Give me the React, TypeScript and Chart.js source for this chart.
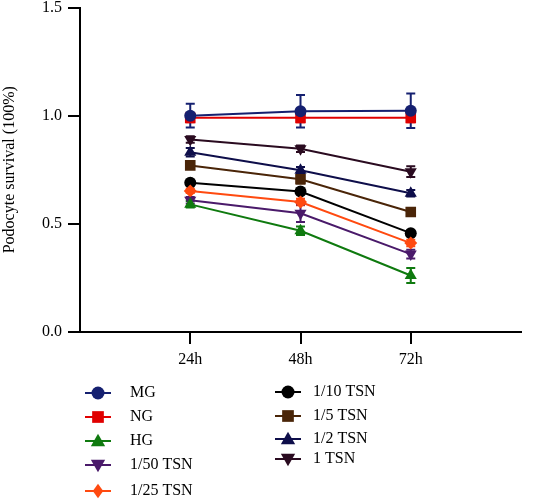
import React, { useEffect, useRef } from "react";
import { Chart, registerables } from "chart.js";

Chart.register(...registerables);

const timeLabels = ["24h", "48h", "72h"];
const seriesNames = ["MG", "NG", "HG", "1/50 TSN", "1/25 TSN", "1/10 TSN", "1/5 TSN", "1/2 TSN", "1 TSN"];
const mgValues = [1.0, 1.02, 1.023];
const ngValues = [0.99, 0.99, 0.99];
const hgValues = [0.59, 0.468, 0.261];
const tsn50Values = [0.609, 0.549, 0.36];
const tsn25Values = [0.652, 0.601, 0.411];
const tsn10Values = [0.69, 0.649, 0.457];
const tsn5Values = [0.77, 0.706, 0.555];
const tsn2Values = [0.831, 0.748, 0.641];
const tsn1Values = [0.89, 0.847, 0.741];

const mgErr = [0.055, 0.075, 0.08];
const ngErr = [0.02, 0.02, 0.02];
const hgErr = [0.015, 0.02, 0.035];
const tsn50Err = [0.015, 0.04, 0.02];
const tsn25Err = [0.01, 0.015, 0.015];
const tsn10Err = [0.01, 0.01, 0.01];
const tsn5Err = [0.015, 0.02, 0.015];
const tsn2Err = [0.02, 0.015, 0.015];
const tsn1Err = [0.015, 0.015, 0.025];

const yTicks = [0, 0.5, 1.0, 1.5];

const allValues = [mgValues, ngValues, hgValues, tsn50Values, tsn25Values, tsn10Values, tsn5Values, tsn2Values, tsn1Values];
const allErr = [mgErr, ngErr, hgErr, tsn50Err, tsn25Err, tsn10Err, tsn5Err, tsn2Err, tsn1Err];
const colors = ["#152070", "#e00000", "#0f7a0f", "#4a1a6a", "#ff4a10", "#000000", "#4a2508", "#0e0e4a", "#2a0b20"];
const styles = ["circle", "rect", "triangle", "triangle", "rectRot", "circle", "rect", "triangle", "triangle"];
const rotations = [0, 0, 0, 180, 0, 0, 0, 0, 180];
const radii = [6, 7.5, 7, 7, 6.5, 6, 7.5, 7, 7];

const FONT = "'Liberation Serif', 'Times New Roman', serif";

function drawMarker(ctx: CanvasRenderingContext2D, style: string, rot: number, x: number, y: number, r: number, color: string) {
  ctx.save();
  ctx.fillStyle = color;
  ctx.translate(x, y);
  ctx.rotate((rot * Math.PI) / 180);
  ctx.beginPath();
  if (style === "circle") {
    ctx.arc(0, 0, r, 0, Math.PI * 2);
  } else if (style === "rect") {
    const s = r * 0.9;
    ctx.rect(-s, -s, 2 * s, 2 * s);
  } else if (style === "triangle") {
    const h = r * 1.1;
    ctx.moveTo(0, -h);
    ctx.lineTo(h, h * 0.75);
    ctx.lineTo(-h, h * 0.75);
    ctx.closePath();
  } else if (style === "rectRot") {
    ctx.moveTo(0, -r * 1.1);
    ctx.lineTo(r * 0.8, 0);
    ctx.lineTo(0, r * 1.1);
    ctx.lineTo(-r * 0.8, 0);
    ctx.closePath();
  }
  ctx.fill();
  ctx.restore();
}

const errorBarPlugin = {
  id: "errorBars",
  beforeDatasetsDraw(chart: any) {
    const ctx = chart.ctx;
    const x = chart.scales.x;
    const y = chart.scales.y;
    ctx.save();
    for (let d = allValues.length - 1; d >= 0; d--) {
      ctx.strokeStyle = colors[d];
      ctx.lineWidth = 2;
      allValues[d].forEach((v, i) => {
        const px = x.getPixelForValue(i + 1);
        const top = y.getPixelForValue(v + allErr[d][i]);
        const bot = y.getPixelForValue(v - allErr[d][i]);
        ctx.beginPath();
        ctx.moveTo(px, top);
        ctx.lineTo(px, bot);
        ctx.moveTo(px - 4.5, top);
        ctx.lineTo(px + 4.5, top);
        ctx.moveTo(px - 4.5, bot);
        ctx.lineTo(px + 4.5, bot);
        ctx.stroke();
      });
    }
    ctx.restore();
  },
};

const legendPlugin = {
  id: "customLegend",
  afterDraw(chart: any) {
    const ctx = chart.ctx;
    ctx.save();
    ctx.font = `16px ${FONT}`;
    ctx.textBaseline = "middle";
    const cols = [
      { lineX: 85, markX: 98, textX: 130, rows: [393, 417, 441, 465, 491] },
      { lineX: 275, markX: 288, textX: 313, rows: [392, 416, 439, 459] },
    ];
    seriesNames.forEach((name, i) => {
      const col = i < 5 ? cols[0] : cols[1];
      const yy = i < 5 ? col.rows[i] : col.rows[i - 5];
      ctx.strokeStyle = colors[i];
      ctx.lineWidth = 2;
      ctx.beginPath();
      ctx.moveTo(col.lineX, yy);
      ctx.lineTo(col.lineX + 26, yy);
      ctx.stroke();
      drawMarker(ctx, styles[i], rotations[i], col.markX, yy, 6.5, colors[i]);
      ctx.fillStyle = "#000";
      ctx.fillText(name, col.textX, yy);
    });
    ctx.restore();
  },
};

export default function App() {
  const ref = useRef<HTMLCanvasElement>(null);
  useEffect(() => {
    if (!ref.current) return;
    const chart = new Chart(ref.current, {
      type: "line",
      data: {
        datasets: seriesNames.map((name, d) => ({
          label: name,
          data: allValues[d].map((v, i) => ({ x: i + 1, y: v })),
          borderColor: colors[d],
          backgroundColor: colors[d],
          borderWidth: 2,
          pointStyle: styles[d] as any,
          pointRotation: rotations[d],
          pointRadius: radii[d],
          pointBorderWidth: 0,
          tension: 0,
        })),
      },
      options: {
        animation: false,
        responsive: false,
        layout: { padding: { left: 0, top: 6, right: 30, bottom: 128 } },
        plugins: { legend: { display: false }, tooltip: { enabled: false } },
        scales: {
          x: {
            type: "linear",
            min: 0,
            max: 4,
            afterBuildTicks: (scale: any) => {
              scale.ticks = timeLabels.map((_, i) => ({ value: i + 1 }));
            },
            afterFit: (scale: any) => {
              scale.height = 40;
              scale.paddingLeft = 0;
              scale.paddingRight = 0;
            },
            ticks: {
              callback: (v: any) => timeLabels[Number(v) - 1] ?? "",
              color: "#000",
              font: { family: FONT, size: 16 },
              padding: 6,
              maxRotation: 0,
            },
            grid: { display: true, drawOnChartArea: false, drawTicks: true, tickLength: 12, color: "#000", lineWidth: 2 },
            border: { display: true, color: "#000", width: 2 },
          },
          y: {
            min: 0,
            max: 1.5,
            afterBuildTicks: (scale: any) => {
              scale.ticks = yTicks.map((v) => ({ value: v }));
            },
            afterFit: (scale: any) => {
              scale.width = 80;
              scale.paddingTop = 0;
              scale.paddingBottom = 0;
            },
            ticks: {
              callback: (v: any) => Number(v).toFixed(1),
              color: "#000",
              font: { family: FONT, size: 16 },
              padding: 6,
            },
            title: {
              display: true,
              text: "Podocyte survival (100%)",
              color: "#000",
              font: { family: FONT, size: 16 },
              padding: { top: 0, bottom: 0 },
            },
            grid: { display: true, drawOnChartArea: false, drawTicks: true, tickLength: 12, color: "#000", lineWidth: 2 },
            border: { display: true, color: "#000", width: 2 },
          },
        },
      },
      plugins: [errorBarPlugin, legendPlugin],
    });
    return () => chart.destroy();
  }, []);
  return (
    <div style={{ position: "absolute", left: 0, top: 0, width: 551, height: 500, background: "#fff" }}>
      <canvas ref={ref} width={551} height={500} />
    </div>
  );
}
